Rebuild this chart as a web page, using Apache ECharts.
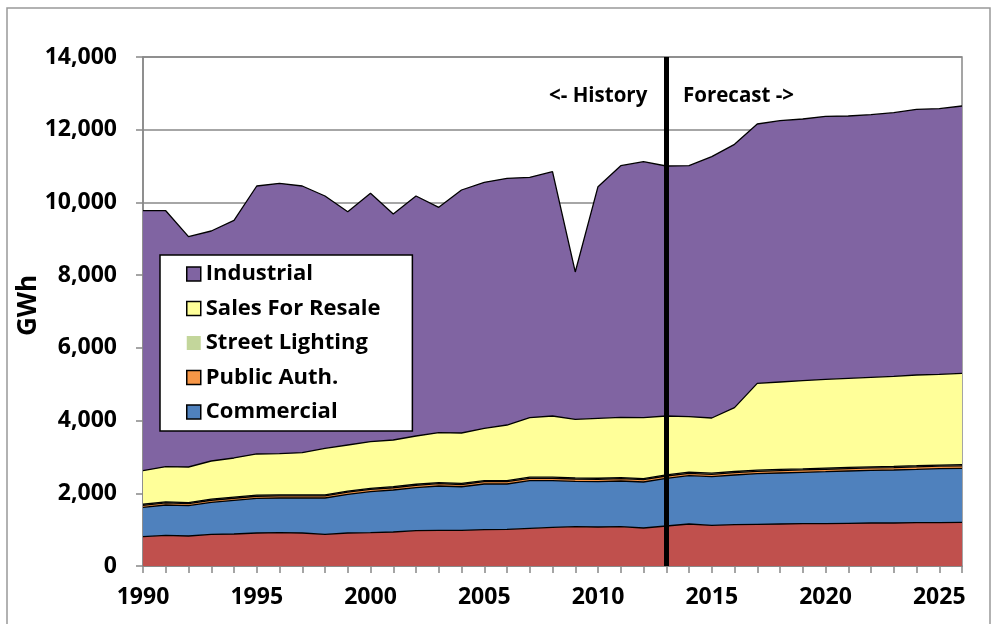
<!DOCTYPE html>
<html>
<head>
<meta charset="utf-8">
<script src="https://cdn.jsdelivr.net/npm/echarts@6/dist/echarts.min.js"></script>
<style>
  html, body { margin: 0; padding: 0; background: #fff; }
  #chart { width: 993px; height: 624px; }
</style>
</head>
<body>
<div id="chart"></div>
<script>
// years on the x axis
const years = ['1990','1991','1992','1993','1994','1995','1996','1997','1998','1999',
  '2000','2001','2002','2003','2004','2005','2006','2007','2008','2009',
  '2010','2011','2012','2013','2014','2015','2016','2017','2018','2019',
  '2020','2021','2022','2023','2024','2025','2026'];

// GWh by class (stacked, bottom to top)
const residential = [807,843,825,871,880,908,917,908,871,908,917,935,972,981,981,999,1008,1036,1064,1082,
  1073,1082,1045,1100,1155,1119,1137,1146,1155,1164,1164,1174,1183,1183,1192,1192,1201];
const commercial = [807,835,835,880,926,953,953,962,999,1064,1128,1155,1183,1219,1199,1256,1247,1311,1283,1248,
  1246,1256,1265,1311,1329,1338,1366,1393,1403,1412,1430,1439,1448,1457,1466,1485,1485];
const publicAuth = [55,56,55,57,58,58,59,59,58,60,61,62,62,63,62,63,63,64,64,63,
  63,64,63,64,65,65,65,66,66,66,67,67,67,68,68,68,69];
const streetLighting = [30,30,30,30,30,30,30,30,30,30,30,31,31,31,31,31,31,31,31,31,
  31,31,31,31,31,31,31,31,31,31,31,31,31,31,31,31,31];
const salesForResale = [923,968,978,1050,1077,1132,1131,1158,1278,1266,1284,1283,1328,1373,1385,1438,1529,1638,1684,1610,
  1649,1656,1676,1620,1527,1518,1756,2388,2406,2424,2442,2451,2460,2478,2496,2496,2514];
const industrial = [7150,7040,6335,6326,6537,7371,7436,7335,6941,6418,6831,6216,6601,6198,6684,6766,6785,6611,6720,4053,
  6371,6922,7041,6876,6904,7188,7243,7133,7188,7198,7234,7215,7225,7252,7308,7307,7352];

const splitYear = '2013';
const font = '"Open Sans"';

const chart = echarts.init(document.getElementById('chart'));

function area(name, color, data, extra) {
  return Object.assign({
    name: name,
    type: 'line',
    stack: 'total',
    data: data,
    symbol: 'none',
    color: color,
    itemStyle: { color: color },
    lineStyle: { color: '#000', width: 1.3 },
    areaStyle: { color: color, opacity: 1 },
    emphasis: { disabled: true },
    animation: false
  }, extra || {});
}

chart.setOption({
  backgroundColor: '#fff',
  grid: {
    left: 143, right: 31, top: 57, bottom: 58,
    show: true, borderColor: '#888', borderWidth: 1.5
  },
  legend: {
    orient: 'vertical',
    left: 160, top: 255,
    padding: [8, 32, 8, 26],
    backgroundColor: '#fff',
    borderColor: '#000', borderWidth: 1.5,
    icon: 'rect',
    itemWidth: 14, itemHeight: 14, itemGap: 12.5,
    itemStyle: { borderColor: '#000', borderWidth: 1.5 },
    textStyle: { fontFamily: font, fontWeight: 'bold', fontSize: 22, color: '#000' },
    data: [
      'Industrial',
      'Sales For Resale',
      { name: 'Street Lighting', itemStyle: { borderWidth: 0 } },
      'Public Auth.',
      'Commercial'
    ],
    selectedMode: false
  },
  xAxis: {
    type: 'category',
    data: years,
    boundaryGap: false,
    axisLine: { lineStyle: { color: '#888', width: 1.5 } },
    axisTick: { show: true, interval: 0, length: 7, lineStyle: { color: '#888', width: 1.5 } },
    axisLabel: {
      interval: 4, margin: 20, color: '#000',
      fontFamily: font, fontWeight: 'bold', fontSize: 23
    },
    splitLine: { show: false }
  },
  yAxis: {
    type: 'value',
    min: 0, max: 14000, interval: 2000,
    name: 'GWh',
    nameLocation: 'middle',
    nameGap: 101,
    nameMoveOverlap: false,
    nameRotate: 90,
    nameTextStyle: { fontFamily: font, fontWeight: 'bold', fontSize: 26, color: '#000', padding: [0, 0, 0, 12] },
    axisLine: { show: true, lineStyle: { color: '#888', width: 1.5 } },
    axisTick: { show: true, length: 7, lineStyle: { color: '#888', width: 1.5 } },
    axisLabel: {
      margin: 26, color: '#000',
      fontFamily: font, fontWeight: 'bold', fontSize: 23,
      formatter: v => v.toLocaleString('en-US')
    },
    splitLine: { lineStyle: { color: '#888', width: 1.5 } }
  },
  graphic: [
    {
      type: 'rect', silent: true, z: -1,
      shape: { x: 7, y: 8, width: 983, height: 640 },
      style: { fill: 'none', stroke: '#999', lineWidth: 1.5 }
    },
    {
      type: 'text', left: 549, top: 86, silent: true,
      style: { text: '<- History', fontFamily: font, fontWeight: 'bold', fontSize: 20.5, fill: '#000' }
    },
    {
      type: 'text', left: 683, top: 86, silent: true,
      style: { text: 'Forecast ->', fontFamily: font, fontWeight: 'bold', fontSize: 20.5, fill: '#000' }
    }
  ],
  series: [
    area('Residential', '#C0504D', residential),
    area('Commercial', '#4F81BD', commercial),
    area('Public Auth.', '#F79646', publicAuth),
    area('Street Lighting', '#C3D69B', streetLighting),
    area('Sales For Resale', '#FFFF99', salesForResale),
    area('Industrial', '#8064A2', industrial, {
      markLine: {
        silent: true,
        symbol: ['none', 'none'],
        label: { show: false },
        lineStyle: { color: '#000', width: 5, type: 'solid' },
        data: [{ xAxis: splitYear }]
      }
    })
  ]
});
</script>
</body>
</html>
